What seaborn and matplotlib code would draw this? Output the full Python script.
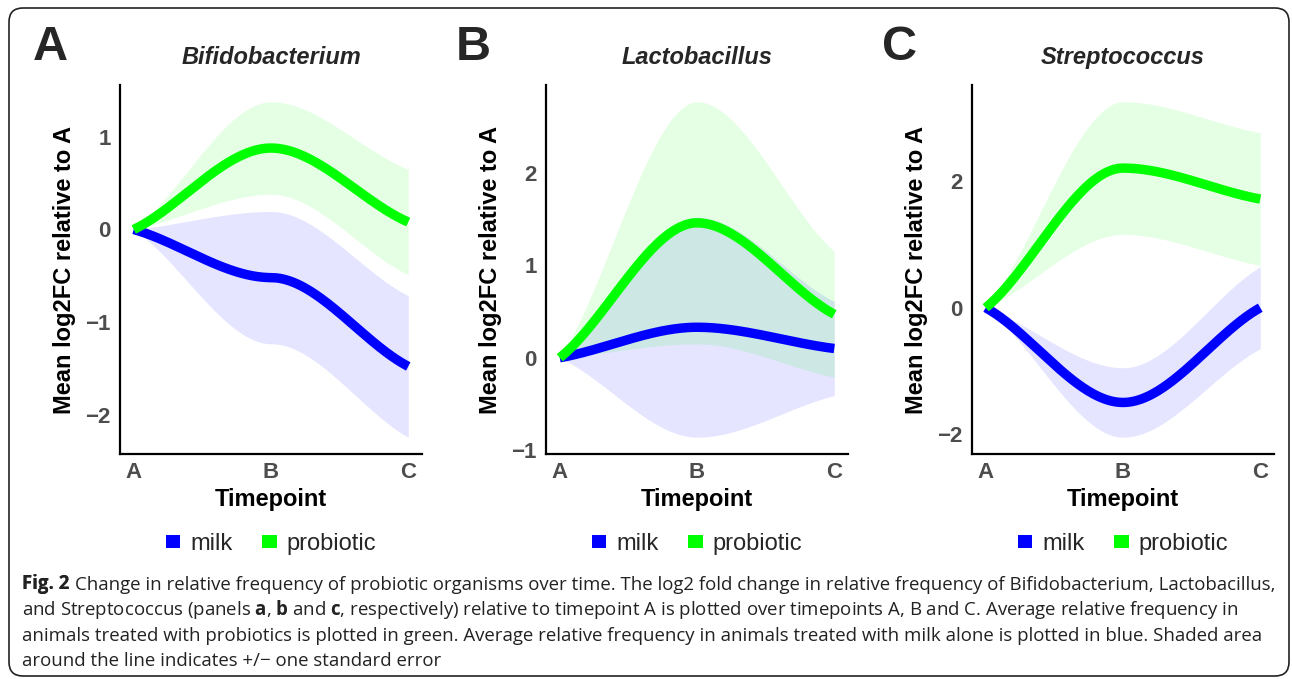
import numpy as np
import pandas as pd
import seaborn as sns
import matplotlib.pyplot as plt
import matplotlib.patches as mpatches

# timepoints on the x axis
timepoints = ["A", "B", "C"]
groups = ["milk", "probiotic"]
group_colors = {"milk": "#0000FF", "probiotic": "#00FF00"}

# mean log2FC relative to A and its standard error
bifido_milk_mean = [0.0, -0.52, -1.48]
bifido_milk_se = [0.0, 0.715, 0.765]
bifido_pro_mean = [0.0, 0.88, 0.08]
bifido_pro_se = [0.0, 0.50, 0.57]

lacto_milk_mean = [0.0, 0.33, 0.10]
lacto_milk_se = [0.0, 1.19, 0.51]
lacto_pro_mean = [0.0, 1.46, 0.47]
lacto_pro_se = [0.0, 1.31, 0.68]

strep_milk_mean = [0.0, -1.50, 0.00]
strep_milk_se = [0.0, 0.55, 0.65]
strep_pro_mean = [0.0, 2.21, 1.72]
strep_pro_se = [0.0, 1.05, 1.05]

panels = [
    ("A", "Bifidobacterium", [-2, -1, 0, 1],
     {"milk": (bifido_milk_mean, bifido_milk_se), "probiotic": (bifido_pro_mean, bifido_pro_se)}),
    ("B", "Lactobacillus", [-1, 0, 1, 2],
     {"milk": (lacto_milk_mean, lacto_milk_se), "probiotic": (lacto_pro_mean, lacto_pro_se)}),
    ("C", "Streptococcus", [-2, 0, 2],
     {"milk": (strep_milk_mean, strep_milk_se), "probiotic": (strep_pro_mean, strep_pro_se)}),
]


def smooth(vals, n=80, k=0.8):
    # cubic hermite through the three timepoints, flat tangent at B
    y = np.asarray(vals, dtype=float)
    m = np.array([k * (y[1] - y[0]), 0.0, k * (y[2] - y[1])])
    xs, ys = [], []
    for i in range(2):
        t = np.linspace(0, 1, n)
        h00 = 2 * t**3 - 3 * t**2 + 1
        h10 = t**3 - 2 * t**2 + t
        h01 = -2 * t**3 + 3 * t**2
        h11 = t**3 - t**2
        xs.append(i + t)
        ys.append(h00 * y[i] + h10 * m[i] + h01 * y[i + 1] + h11 * m[i + 1])
    return np.concatenate(xs), np.concatenate(ys)


sns.set_theme(style='white')
plt.rcParams['font.family'] = ['Liberation Sans', 'DejaVu Sans']
plt.rcParams['mathtext.fontset'] = 'custom'
plt.rcParams['mathtext.rm'] = 'Open Sans'
plt.rcParams['mathtext.bf'] = 'Open Sans:bold'
plt.rcParams['axes.unicode_minus'] = True

W, H = 1292, 679
fig = plt.figure(figsize=(W / 100, H / 100), dpi=100)

lefts = [120, 546, 972]
ax_w, ax_top, ax_bot = 302, 85, 454
letter_x = [33, 456, 882]

for (letter, title, yticks, series), left, lx in zip(panels, lefts, letter_x):
    ax = fig.add_axes([left / W, 1 - ax_bot / H, ax_w / W, (ax_bot - ax_top) / H])

    rows = []
    lo_all, hi_all = [], []
    for g in groups:
        mean, se = series[g]
        x, y = smooth(mean)
        _, s = smooth(se)
        ax.fill_between(x, y - s, y + s, color=group_colors[g], alpha=0.1, linewidth=0)
        lo_all.append((y - s).min())
        hi_all.append((y + s).max())
        rows.append(pd.DataFrame({"x": x, "y": y, "group": g}))
    df = pd.concat(rows, ignore_index=True)

    sns.lineplot(data=df, x="x", y="y", hue="group", palette=group_colors,
                 hue_order=groups, estimator=None, sort=False, linewidth=6.8,
                 legend=False, ax=ax, solid_capstyle='butt')

    lo, hi = min(lo_all), max(hi_all)
    pad = (hi - lo) * 0.05
    ax.set_ylim(lo - pad, hi + pad)
    ax.set_xlim(-0.1, 2.1)
    ax.set_xticks(range(3), timepoints)
    ax.set_yticks(yticks)

    for side in ['top', 'right']:
        ax.spines[side].set_visible(False)
    for side in ['left', 'bottom']:
        ax.spines[side].set_color('black')
        ax.spines[side].set_linewidth(1.6)
    ax.tick_params(axis='both', length=3.6, width=1.6, color='black',
                   labelsize=16, labelcolor='#4D4D4D')
    ax.tick_params(axis='x', pad=2)
    ax.tick_params(axis='y', pad=3)
    for lab in ax.get_xticklabels() + ax.get_yticklabels():
        lab.set_fontweight('bold')

    ax.set_xlabel("Timepoint", fontsize=17, fontweight='bold', labelpad=4, color='black')
    ax.set_ylabel("Mean log2FC relative to A", fontsize=17, fontweight='bold',
                  labelpad=7, color='black')
    ax.set_title(title, fontsize=17, fontweight='bold', fontstyle='italic', pad=15)

    handles = [mpatches.Patch(color=group_colors[g], linewidth=0) for g in groups]
    ax.legend(handles, groups, ncol=2, loc='center', bbox_to_anchor=(0.5, -0.244),
              frameon=False, fontsize=17, handlelength=0.63, handleheight=0.47,
              handletextpad=0.43, columnspacing=1.23)

    fig.text(lx / W, 1 - 60 / H, letter, fontsize=35, fontweight='bold',
             va='baseline', ha='left')

# caption
caption_label = "Fig. 2"
caption = [
    "Change in relative frequency of probiotic organisms over time. "
    "The log2 fold change in relative frequency of Bifidobacterium, Lactobacillus,",
    r"and Streptococcus (panels $\mathbf{a}$, $\mathbf{b}$ and $\mathbf{c}$, respectively) "
    r"relative to timepoint A is plotted over timepoints A, B and C. Average relative frequency in",
    "animals treated with probiotics is plotted in green. Average relative frequency in "
    "animals treated with milk alone is plotted in blue. Shaded area",
    "around the line indicates +/\u2212 one standard error",
]
baselines = [589, 615, 641, 666]
cap_kw = dict(fontsize=13.4, family='Open Sans', color='#222222')

label = fig.text(22 / W, 1 - baselines[0] / H, caption_label, fontweight='bold',
                 va='baseline', ha='left', **cap_kw)
fig.add_artist(label)
first = plt.annotate(caption[0], xy=(1, 0), xycoords=label, xytext=(4.2, 0),
                     textcoords='offset points', va='bottom', ha='left',
                     annotation_clip=False, **cap_kw)
first.set_in_layout(False)
for line, yb in zip(caption[1:], baselines[1:]):
    fig.text(22 / W, 1 - yb / H, line, va='baseline', ha='left', **cap_kw)

# rounded frame around figure and caption
frame = mpatches.FancyBboxPatch((9, 3), 1280, 668, boxstyle="round,pad=0,rounding_size=14",
                                transform=None, fill=False, edgecolor='#222222', linewidth=1.2)
fig.add_artist(frame)

fig.savefig("out.png", dpi=100)
